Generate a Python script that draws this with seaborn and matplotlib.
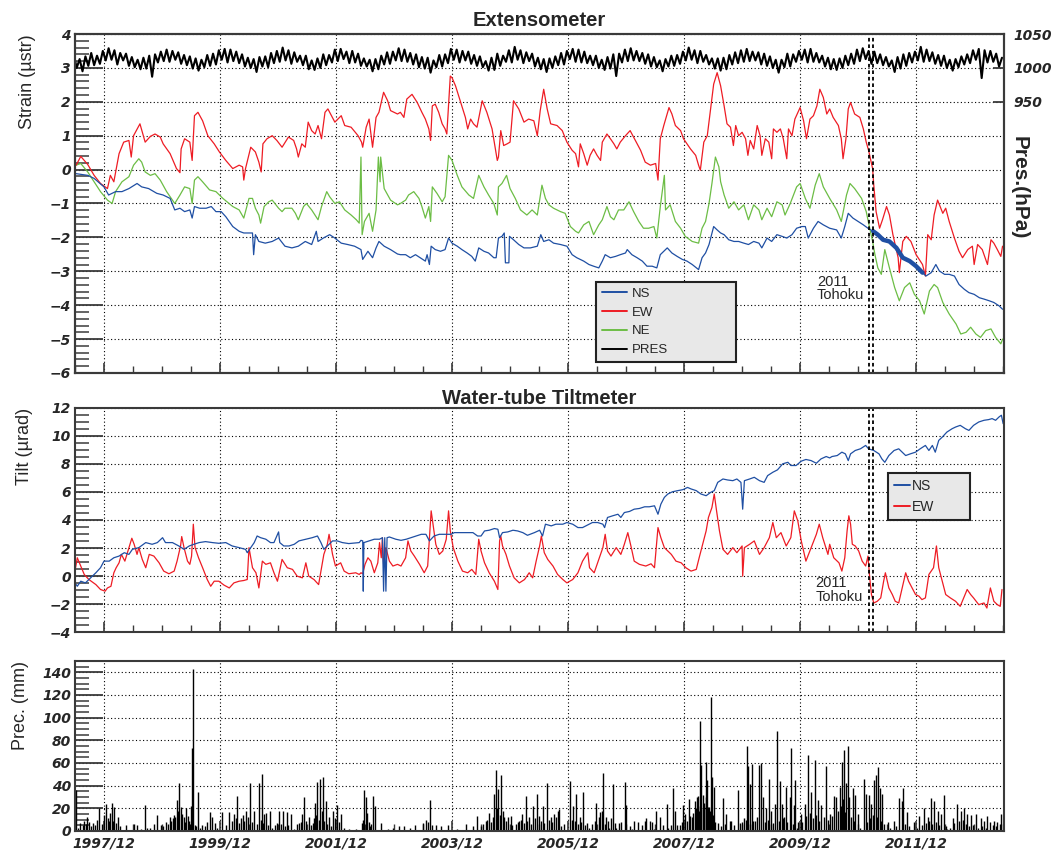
import numpy as np
import matplotlib
matplotlib.use("Agg")
import matplotlib.pyplot as plt
import seaborn as sns
from matplotlib.lines import Line2D

# ---- time axis (decimal years) ----
year_ticks = [1997.92, 1999.92, 2001.92, 2003.92, 2005.92, 2007.92, 2009.92, 2011.92]
year_labels = ["1997/12", "1999/12", "2001/12", "2003/12", "2005/12", "2007/12", "2009/12", "2011/12"]
tohoku_t = [2011.10, 2011.17]

# ---- Extensometer, strain (t, value) ----
ns_strain = [
    (1997.44, -0.12), (1997.64, -0.17), (1997.75, -0.26), (1997.92, -0.51), (1998.00, -0.75), (1998.12, -0.65),
    (1998.23, -0.65), (1998.35, -0.56), (1998.49, -0.41), (1998.57, -0.51), (1998.69, -0.56), (1998.83, -0.70),
    (1998.94, -0.75), (1999.06, -0.85), (1999.14, -1.19), (1999.23, -1.14), (1999.31, -1.24), (1999.40, -1.19),
    (1999.44, -1.43), (1999.48, -1.09), (1999.57, -1.14), (1999.68, -1.14), (1999.77, -1.09), (1999.85, -1.24),
    (1999.94, -1.24), (2000.02, -1.39), (2000.14, -1.68), (2000.25, -1.82), (2000.33, -1.87), (2000.48, -1.87),
    (2000.50, -2.51), (2000.53, -1.92), (2000.59, -2.12), (2000.70, -2.17), (2000.82, -2.12), (2000.93, -2.02),
    (2001.04, -2.26), (2001.16, -2.31), (2001.27, -2.26), (2001.39, -2.12), (2001.50, -2.21), (2001.58, -1.82),
    (2001.61, -2.12), (2001.70, -2.02), (2001.81, -1.92), (2001.90, -2.02), (2002.01, -2.17), (2002.12, -2.21),
    (2002.24, -2.26), (2002.35, -2.36), (2002.38, -2.65), (2002.47, -2.41), (2002.55, -2.60), (2002.61, -2.31),
    (2002.66, -2.12), (2002.75, -2.26), (2002.86, -2.36), (2002.98, -2.49),
    (2003.03, -2.51), (2003.12, -2.51), (2003.20, -2.60), (2003.29, -2.51), (2003.37, -2.60), (2003.46, -2.70),
    (2003.49, -2.51), (2003.53, -2.80), (2003.56, -2.26), (2003.63, -2.36), (2003.72, -2.41), (2003.80, -2.36),
    (2003.86, -2.02), (2003.92, -2.17), (2004.01, -2.26), (2004.09, -2.36), (2004.18, -2.46), (2004.26, -2.56),
    (2004.32, -2.70), (2004.38, -2.31), (2004.47, -2.41), (2004.55, -2.46), (2004.64, -2.60), (2004.68, -2.60),
    (2004.72, -2.02), (2004.78, -1.97), (2004.82, -1.87), (2004.84, -2.75), (2004.90, -2.75), (2004.91, -1.97),
    (2004.98, -2.07), (2005.07, -2.21), (2005.16, -2.31), (2005.27, -2.31), (2005.39, -2.26), (2005.45, -1.92),
    (2005.50, -2.12), (2005.59, -2.07), (2005.67, -2.17), (2005.79, -2.21), (2005.90, -2.26), (2005.99, -2.51),
    (2006.07, -2.60), (2006.19, -2.70), (2006.28, -2.80), (2006.36, -2.85), (2006.45, -2.90), (2006.51, -2.70),
    (2006.56, -2.51), (2006.65, -2.60), (2006.74, -2.56), (2006.82, -2.51), (2006.91, -2.46), (2006.94, -2.36),
    (2007.02, -2.51), (2007.11, -2.60), (2007.20, -2.70), (2007.28, -2.85), (2007.37, -2.85), (2007.45, -2.90),
    (2007.51, -2.51), (2007.63, -2.31), (2007.71, -2.46), (2007.80, -2.56), (2007.89, -2.65), (2007.97, -2.70),
    (2008.06, -2.80), (2008.17, -2.95), (2008.23, -2.60), (2008.29, -2.46), (2008.35, -2.21), (2008.43, -1.68),
    (2008.49, -1.78), (2008.55, -1.87),
    (2008.61, -1.92), (2008.69, -2.07), (2008.78, -2.12), (2008.86, -2.12), (2008.95, -2.17), (2009.03, -2.21),
    (2009.12, -2.12), (2009.21, -2.17), (2009.26, -2.31), (2009.35, -2.02), (2009.43, -2.12), (2009.52, -1.92),
    (2009.61, -1.97), (2009.69, -2.02), (2009.78, -1.92), (2009.86, -1.73), (2009.95, -1.68), (2010.01, -1.68),
    (2010.06, -2.02), (2010.15, -1.73), (2010.23, -1.53), (2010.32, -1.63), (2010.43, -1.73), (2010.55, -1.78),
    (2010.63, -2.02), (2010.69, -1.68), (2010.75, -1.29), (2010.83, -1.43), (2010.92, -1.53), (2011.01, -1.63),
    (2011.09, -1.73), (2011.18, -1.82), (2011.26, -1.92), (2011.35, -2.07), (2011.46, -2.12), (2011.58, -2.31),
    (2011.69, -2.60), (2011.81, -2.70), (2011.92, -2.85), (2012.03, -3.04), (2012.09, -3.14), (2012.18, -3.04),
    (2012.26, -2.80), (2012.32, -2.99), (2012.41, -3.09), (2012.49, -3.09), (2012.58, -3.14), (2012.66, -3.39),
    (2012.75, -3.53), (2012.83, -3.63), (2012.92, -3.68), (2013.01, -3.78), (2013.09, -3.82), (2013.18, -3.87),
    (2013.26, -3.92), (2013.35, -4.02), (2013.41, -4.12),
]

ew_strain = [
    (1997.44, 0.13), (1997.52, 0.39), (1997.64, 0.15), (1997.75, -0.17), (1997.86, -0.41), (1997.98, -0.56),
    (1998.03, -0.17), (1998.09, -0.36), (1998.18, 0.47), (1998.26, 0.81), (1998.35, 0.86), (1998.39, 0.37),
    (1998.43, 1.00), (1998.54, 1.35), (1998.63, 0.81), (1998.72, 0.98), (1998.80, 1.05), (1998.89, 0.96),
    (1998.94, 0.76), (1999.06, 0.47), (1999.17, 0.03), (1999.23, -0.09), (1999.25, 0.61), (1999.31, 0.91),
    (1999.40, 0.81), (1999.44, 0.27), (1999.48, 1.59), (1999.54, 1.69), (1999.62, 1.44), (1999.71, 1.00),
    (1999.82, 0.76), (1999.91, 0.52), (2000.02, 0.27), (2000.14, 0.03), (2000.25, 0.13), (2000.31, 0.08),
    (2000.33, -0.31), (2000.36, 0.03), (2000.45, 0.66), (2000.53, 0.52), (2000.59, 0.22), (2000.63, -0.07),
    (2000.66, 0.76), (2000.73, 0.91), (2000.82, 1.00), (2000.90, 0.86), (2000.99, 0.66), (2001.10, 0.96),
    (2001.19, 0.86), (2001.24, 0.61), (2001.27, 0.37), (2001.33, 0.76), (2001.39, 0.66), (2001.44, 1.40),
    (2001.50, 1.15), (2001.56, 1.05), (2001.61, 1.30), (2001.67, 0.91), (2001.73, 1.69), (2001.78, 1.79),
    (2001.90, 1.40), (2002.01, 1.59), (2002.07, 1.30), (2002.18, 1.25), (2002.30, 1.00), (2002.36, 0.81),
    (2002.38, 0.66), (2002.44, 1.25), (2002.49, 1.49), (2002.55, 0.66), (2002.61, 1.54), (2002.66, 1.69),
    (2002.74, 2.28), (2002.81, 2.03), (2002.86, 1.74), (2002.98, 1.64),
    (2003.03, 1.69), (2003.09, 1.54), (2003.14, 2.08), (2003.23, 2.22), (2003.32, 1.98), (2003.40, 1.69),
    (2003.46, 1.49), (2003.52, 1.20), (2003.55, 0.86), (2003.58, 1.88), (2003.63, 1.93), (2003.69, 1.69),
    (2003.75, 1.35), (2003.80, 1.20), (2003.83, 1.05), (2003.89, 2.76), (2003.92, 2.71), (2003.98, 2.47),
    (2004.06, 2.03), (2004.15, 1.54), (2004.19, 1.20), (2004.24, 1.49), (2004.29, 1.35), (2004.35, 1.25),
    (2004.44, 2.03), (2004.52, 1.69), (2004.61, 1.20), (2004.70, 0.27), (2004.72, 0.37), (2004.76, 1.15),
    (2004.81, 0.71), (2004.87, 0.76), (2004.92, 0.81), (2004.98, 2.03), (2005.07, 1.79), (2005.16, 1.40),
    (2005.24, 1.49), (2005.33, 1.44), (2005.39, 1.00), (2005.44, 1.74), (2005.50, 2.37), (2005.56, 1.79),
    (2005.62, 1.35), (2005.73, 1.30), (2005.82, 1.15), (2005.90, 0.81), (2005.99, 0.57), (2006.05, 0.47),
    (2006.10, 0.08), (2006.13, 0.76), (2006.19, 0.47), (2006.25, 0.13), (2006.30, 0.42), (2006.36, 0.61),
    (2006.42, 0.42), (2006.48, 0.27), (2006.51, 0.81), (2006.59, 1.05), (2006.65, 0.91), (2006.71, 0.76),
    (2006.76, 0.61), (2006.82, 0.81), (2006.91, 1.00), (2006.99, 1.15), (2007.08, 0.86), (2007.17, 0.57),
    (2007.25, 0.22), (2007.34, 0.13), (2007.43, 0.18), (2007.47, -0.31), (2007.51, 0.91), (2007.57, 1.30),
    (2007.66, 1.83), (2007.71, 1.64), (2007.77, 1.30), (2007.86, 1.15), (2007.91, 0.91), (2008.03, 0.61),
    (2008.12, 0.42), (2008.17, 0.13), (2008.20, -0.02), (2008.26, 0.81), (2008.32, 1.00), (2008.37, 1.69),
    (2008.43, 2.52), (2008.49, 2.86), (2008.55, 2.47),
    (2008.61, 1.88), (2008.66, 1.35), (2008.72, 1.25), (2008.77, 0.71), (2008.81, 1.30), (2008.86, 1.00),
    (2008.92, 1.10), (2008.98, 0.91), (2009.02, 0.42), (2009.06, 0.86), (2009.12, 0.61), (2009.18, 1.30),
    (2009.23, 1.00), (2009.26, 0.42), (2009.32, 0.91), (2009.38, 0.81), (2009.43, 0.32), (2009.46, 1.20),
    (2009.52, 1.10), (2009.58, 1.20), (2009.63, 0.91), (2009.69, 0.32), (2009.72, 1.20), (2009.78, 1.00),
    (2009.83, 1.49), (2009.92, 1.83), (2009.98, 1.44), (2010.03, 0.91), (2010.09, 1.49), (2010.15, 1.59),
    (2010.21, 1.88), (2010.26, 2.37), (2010.32, 2.13), (2010.38, 1.64), (2010.43, 1.79), (2010.49, 1.54),
    (2010.58, 1.30), (2010.63, 0.91), (2010.66, 0.32), (2010.71, 0.91), (2010.75, 1.79), (2010.79, 1.98),
    (2010.86, 1.64), (2010.95, 1.54), (2011.01, 1.20), (2011.06, 0.81), (2011.10, 0.57), (2011.17, 0.03),
    (2011.19, -0.46), (2011.23, -1.24), (2011.29, -1.73), (2011.34, -1.48), (2011.41, -1.09), (2011.46, -1.34),
    (2011.52, -1.92), (2011.61, -2.60), (2011.63, -3.04), (2011.69, -2.12), (2011.75, -1.97), (2011.83, -2.12),
    (2011.92, -2.51), (2012.03, -2.80), (2012.08, -3.14), (2012.12, -1.92), (2012.18, -2.07), (2012.23, -1.34),
    (2012.29, -0.90), (2012.38, -1.29), (2012.43, -1.14), (2012.49, -1.53), (2012.58, -2.02), (2012.66, -2.41),
    (2012.72, -2.60), (2012.81, -2.36), (2012.89, -2.26), (2012.92, -2.80), (2012.98, -2.21), (2013.06, -2.36),
    (2013.15, -2.80), (2013.21, -2.07), (2013.26, -2.17), (2013.32, -2.36), (2013.38, -2.56), (2013.41, -2.26),
]

ne_strain = [
    (1997.44, 0.13), (1997.52, 0.18), (1997.64, -0.07), (1997.75, -0.36), (1997.86, -0.65), (1997.98, -0.90),
    (1998.06, -1.00), (1998.12, -0.65), (1998.23, -0.36), (1998.35, -0.21), (1998.43, 0.13), (1998.52, 0.32),
    (1998.57, 0.22), (1998.63, -0.07), (1998.72, -0.17), (1998.80, -0.12), (1998.89, -0.31), (1999.00, -0.65),
    (1999.08, -0.85), (1999.14, -1.00), (1999.23, -0.75), (1999.31, -0.51), (1999.40, -0.56), (1999.44, -1.00),
    (1999.48, -0.31), (1999.54, -0.21), (1999.62, -0.36), (1999.74, -0.60), (1999.85, -0.65), (1999.97, -0.85),
    (2000.14, -1.09), (2000.25, -1.19), (2000.33, -1.43), (2000.42, -0.85), (2000.48, -0.85), (2000.53, -1.14),
    (2000.59, -1.34), (2000.62, -1.58), (2000.68, -1.09), (2000.76, -0.95), (2000.82, -0.90), (2000.93, -1.14),
    (2000.99, -1.24), (2001.04, -1.14), (2001.16, -1.14), (2001.22, -1.29), (2001.27, -1.48), (2001.36, -1.09),
    (2001.41, -1.00), (2001.50, -1.19), (2001.61, -1.48), (2001.67, -1.09), (2001.76, -0.65), (2001.81, -0.80),
    (2001.90, -1.00), (2001.98, -0.95), (2002.07, -1.19), (2002.18, -1.34), (2002.27, -1.48), (2002.32, -1.58),
    (2002.35, 0.37), (2002.37, -1.92), (2002.41, -1.53), (2002.49, -1.29), (2002.55, -1.82), (2002.61, -1.19),
    (2002.65, 0.37), (2002.68, -0.36), (2002.69, 0.37), (2002.75, -0.56), (2002.86, -0.90), (2002.98, -1.04),
    (2003.03, -1.00), (2003.12, -0.90), (2003.17, -0.75), (2003.26, -0.65), (2003.35, -0.85), (2003.40, -1.09),
    (2003.46, -1.43), (2003.52, -1.09), (2003.55, -1.53), (2003.58, -0.51), (2003.66, -0.70), (2003.75, -0.95),
    (2003.80, -0.80), (2003.86, 0.42), (2003.92, 0.27), (2004.01, -0.17), (2004.09, -0.51), (2004.21, -0.75),
    (2004.29, -0.85), (2004.38, -0.17), (2004.47, -0.51), (2004.55, -0.75), (2004.64, -1.00), (2004.70, -1.34),
    (2004.72, -0.51), (2004.78, -0.41), (2004.86, -0.17), (2004.92, -0.56), (2005.01, -0.85), (2005.10, -1.19),
    (2005.21, -1.34), (2005.30, -1.19), (2005.39, -1.34), (2005.47, -0.46), (2005.53, -0.85), (2005.59, -1.04),
    (2005.67, -1.14), (2005.79, -1.24), (2005.87, -1.29), (2005.96, -1.68), (2006.05, -1.82), (2006.10, -1.87),
    (2006.19, -1.63), (2006.28, -1.53), (2006.36, -1.92), (2006.45, -1.63), (2006.51, -1.48), (2006.59, -1.09),
    (2006.65, -1.39), (2006.71, -1.48), (2006.79, -1.19), (2006.88, -1.19), (2006.97, -0.95), (2007.05, -1.24),
    (2007.14, -1.53), (2007.22, -1.73), (2007.31, -1.73), (2007.40, -1.68), (2007.45, -2.02), (2007.51, -1.09),
    (2007.58, -0.17), (2007.60, -1.19), (2007.68, -1.04), (2007.77, -1.53), (2007.86, -1.73), (2007.94, -1.97),
    (2008.06, -2.12), (2008.17, -2.17), (2008.23, -1.73), (2008.29, -1.53), (2008.35, -1.00), (2008.40, -0.41),
    (2008.46, 0.37), (2008.52, 0.08), (2008.55, -0.36),
    (2008.61, -0.75), (2008.69, -1.14), (2008.78, -0.95), (2008.86, -1.19), (2008.95, -1.04), (2009.03, -1.48),
    (2009.12, -1.04), (2009.21, -1.19), (2009.26, -1.48), (2009.35, -1.14), (2009.43, -1.39), (2009.52, -0.95),
    (2009.61, -1.04), (2009.66, -1.34), (2009.75, -1.00), (2009.86, -0.51), (2009.92, -0.41), (2010.01, -0.85),
    (2010.09, -1.14), (2010.18, -0.46), (2010.25, -0.12), (2010.32, -0.51), (2010.43, -0.85), (2010.55, -1.19),
    (2010.63, -1.53), (2010.72, -0.75), (2010.78, -0.41), (2010.86, -0.56), (2010.98, -0.85), (2011.06, -1.24),
    (2011.12, -1.73), (2011.17, -2.12), (2011.21, -2.51), (2011.26, -2.90), (2011.32, -3.09), (2011.38, -2.36),
    (2011.46, -2.90), (2011.55, -3.48), (2011.63, -3.87), (2011.72, -3.48), (2011.81, -3.34), (2011.89, -3.68),
    (2011.98, -3.87), (2012.06, -4.26), (2012.15, -3.58), (2012.23, -3.39), (2012.29, -3.48), (2012.38, -3.92),
    (2012.49, -4.26), (2012.61, -4.56), (2012.69, -4.85), (2012.78, -4.80), (2012.86, -4.65), (2012.95, -4.85),
    (2013.03, -4.95), (2013.12, -4.75), (2013.21, -4.70), (2013.29, -4.95), (2013.38, -5.14), (2013.41, -5.00),
]

# atmospheric pressure (hPa), one value every 0.05 yr from 1997.40
pres_start, pres_step = 1997.40, 0.05
pres_hpa = [
    1019, 1000, 1013, 995, 1017, 1003, 1022, 1004, 1018, 1006, 1025, 1011, 1029, 1012, 1026, 1005, 1022, 1011, 1021, 1003,
    1016, 1001, 1012, 998, 1015, 999, 1018, 987, 1020, 1008, 1024, 1010, 1027, 1009, 1025, 1012, 1023, 1006, 1019, 1004,
    1017, 999, 1014, 996, 1012, 1001, 1019, 1003, 1021, 1005, 1026, 1012, 1028, 1008, 1027, 1010, 1024, 1007, 1020, 1002,
    1015, 1000, 1013, 994, 1016, 1002, 1017, 1001, 1022, 1007, 1025, 1009, 1030, 1011, 1026, 1006, 1023, 1009, 1018, 1004,
    1018, 998, 1011, 997, 1014, 1000, 1020, 1004, 1019, 1008, 1027, 1010, 1028, 1013, 1024, 1007, 1025, 1008, 1021, 1003,
    1014, 1002, 1012, 995, 1013, 998, 1018, 1005, 1023, 1006, 1024, 1011, 1029, 1010, 1027, 1009, 1022, 1005, 1020, 1001,
    1016, 999, 1015, 993, 1011, 1001, 1019, 1002, 1020, 1007, 1028, 1012, 1027, 1008, 1025, 1011, 1024, 1006, 1019, 1003,
    1017, 1001, 1010, 996, 1015, 997, 1021, 1003, 1018, 1009, 1026, 1008, 1031, 1012, 1026, 1007, 1023, 1010, 1021, 1002,
    1015, 998, 1013, 994, 1014, 1000, 1017, 1004, 1022, 1005, 1025, 1013, 1028, 1009, 1027, 1008, 1024, 1007, 1018, 1004,
    1018, 1000, 1012, 997, 1016, 999, 1020, 988, 1021, 1008, 1027, 1010, 1029, 1011, 1025, 1010, 1022, 1006, 1020, 1002,
    1016, 1001, 1011, 995, 1013, 1002, 1018, 1003, 1019, 1006, 1024, 1011, 1030, 1012, 1026, 1007, 1025, 1009, 1019, 1005,
    1014, 999, 1014, 996, 1015, 998, 1019, 1005, 1023, 1007, 1026, 1009, 1028, 1010, 1024, 1011, 1023, 1005, 1021, 1003,
    1017, 1000, 1012, 993, 1012, 1001, 1021, 1002, 1020, 1009, 1025, 1012, 1027, 1008, 1028, 1009, 1022, 1008, 1018, 1002,
    1015, 998, 1013, 997, 1014, 1000, 1018, 1004, 1021, 1006, 1027, 1010, 1029, 1013, 1025, 1006, 1024, 1007, 1020, 1004,
    1016, 1002, 1011, 994, 1016, 999, 1020, 1003, 1022, 1008, 1024, 1011, 1031, 1009, 1027, 1010, 1023, 1006, 1019, 1003,
    1018, 1000, 1012, 996, 1013, 1001, 1017, 1005, 1020, 1007, 1026, 1012, 1028, 985, 1026, 1008, 1025, 1009, 1021, 1002,
    1015,
]

# ---- Water-tube tiltmeter (t, value) ----
ns_tilt = [
    (1997.42, -0.48), (1997.46, -0.72), (1997.52, -0.36), (1997.60, -0.48), (1997.69, -0.12), (1997.78, 0.24),
    (1997.86, 0.60), (1997.92, 1.07), (1998.01, 1.07), (1998.09, 1.31), (1998.18, 1.43), (1998.27, 1.67),
    (1998.35, 1.55), (1998.41, 1.91), (1998.52, 2.03), (1998.64, 2.39), (1998.75, 2.27), (1998.84, 2.39),
    (1998.93, 2.74), (1998.98, 2.39), (1999.10, 2.39), (1999.21, 2.15), (1999.30, 1.91), (1999.39, 2.15),
    (1999.47, 2.27), (1999.56, 2.39), (1999.67, 2.46), (1999.79, 2.39), (1999.90, 2.34), (2000.02, 2.39),
    (2000.13, 2.15), (2000.25, 2.03), (2000.36, 1.91), (2000.39, 1.67), (2000.45, 2.03), (2000.51, 2.39),
    (2000.56, 2.86), (2000.62, 2.74), (2000.71, 2.63), (2000.79, 2.39), (2000.85, 2.39), (2000.93, 3.15),
    (2000.95, 2.39), (2001.02, 2.15), (2001.11, 2.15), (2001.20, 2.27), (2001.28, 2.51), (2001.40, 2.63),
    (2001.51, 2.74), (2001.60, 2.86), (2001.66, 2.39), (2001.71, 1.91), (2001.77, 2.15), (2001.86, 2.51),
    (2001.94, 2.51), (2002.03, 2.39), (2002.14, 2.32), (2002.32, 2.39),
    (2002.35, 2.55), (2002.38, 2.51), (2002.39, -1.07), (2002.40, 2.39), (2002.49, 2.51), (2002.58, 2.63),
    (2002.67, 2.63), (2002.72, 2.74), (2002.74, -1.07), (2002.76, 2.74), (2002.78, -1.07), (2002.80, 2.74),
    (2002.84, 2.79), (2002.95, 2.63), (2003.04, 2.55), (2003.13, 2.63), (2003.21, 2.74), (2003.30, 2.86),
    (2003.39, 2.98), (2003.47, 2.98), (2003.53, 2.51), (2003.61, 2.86), (2003.70, 2.98), (2003.82, 2.98),
    (2003.90, 2.98), (2003.96, 3.10), (2004.05, 3.10), (2004.16, 3.10), (2004.28, 3.10), (2004.36, 2.86),
    (2004.42, 2.86), (2004.48, 3.22), (2004.56, 3.27), (2004.65, 3.39), (2004.71, 3.34), (2004.74, 2.74),
    (2004.79, 3.10), (2004.88, 3.15), (2004.97, 3.27), (2005.05, 3.22), (2005.14, 3.10), (2005.22, 2.91),
    (2005.34, 3.10), (2005.43, 3.27), (2005.48, 2.86), (2005.53, 3.70), (2005.63, 3.58), (2005.71, 3.70),
    (2005.83, 3.70), (2005.90, 3.82), (2006.00, 3.70), (2006.09, 3.46), (2006.17, 3.46), (2006.26, 3.65),
    (2006.34, 3.82), (2006.43, 3.82), (2006.52, 3.70), (2006.55, 3.46), (2006.60, 4.18), (2006.69, 4.30),
    (2006.78, 4.41), (2006.83, 4.18), (2006.89, 4.53), (2006.98, 4.61), (2007.06, 4.77), (2007.15, 4.82),
    (2007.24, 4.94), (2007.32, 4.94), (2007.41, 5.01), (2007.47, 4.41), (2007.52, 5.13), (2007.58, 5.61),
    (2007.64, 5.85), (2007.72, 6.01), (2007.81, 6.09), (2007.90, 6.16), (2007.98, 6.32), (2008.04, 6.21),
    (2008.13, 6.09), (2008.21, 5.85), (2008.30, 5.73), (2008.38, 5.97), (2008.44, 6.09), (2008.50, 6.68),
    (2008.59, 6.92), (2008.67, 6.85), (2008.76, 6.80), (2008.83, 6.92), (2008.90, 6.68), (2008.93, 4.77),
    (2008.96, 6.80), (2009.05, 6.92), (2009.13, 7.04), (2009.22, 6.80), (2009.30, 6.68), (2009.36, 7.16),
    (2009.45, 7.40), (2009.53, 7.57), (2009.62, 8.00), (2009.71, 8.11), (2009.76, 7.88), (2009.85, 7.88),
    (2009.94, 8.19), (2010.02, 8.31), (2010.11, 8.23), (2010.20, 8.04), (2010.28, 8.35), (2010.37, 8.52),
    (2010.43, 8.42),
    (2010.47, 8.52), (2010.56, 8.59), (2010.64, 8.83), (2010.70, 8.71), (2010.75, 8.23), (2010.79, 8.71),
    (2010.87, 8.95), (2010.96, 9.07), (2011.05, 9.31), (2011.10, 9.07), (2011.19, 8.95), (2011.28, 8.71),
    (2011.33, 8.35), (2011.38, 8.11), (2011.45, 8.59), (2011.54, 8.95), (2011.62, 9.07), (2011.68, 8.83),
    (2011.74, 8.59), (2011.82, 8.71), (2011.91, 8.83), (2011.99, 9.07), (2012.08, 9.31), (2012.14, 8.95),
    (2012.20, 9.31), (2012.25, 8.83), (2012.31, 9.67), (2012.37, 9.90), (2012.45, 10.26), (2012.54, 10.50),
    (2012.60, 10.62), (2012.68, 10.74), (2012.77, 10.50), (2012.83, 10.38), (2012.91, 10.74), (2013.00, 10.98),
    (2013.09, 11.10), (2013.17, 11.15), (2013.23, 11.22), (2013.29, 11.10), (2013.35, 11.34), (2013.39, 11.46),
    (2013.42, 10.86),
]

ew_tilt = [
    (1997.42, 0.36), (1997.46, 1.31), (1997.52, 0.72), (1997.58, 0.12), (1997.66, -0.24), (1997.78, -0.60),
    (1997.86, -0.95), (1997.94, -1.07), (1997.98, -0.84), (1998.04, -0.72), (1998.09, 0.24), (1998.13, 0.60),
    (1998.18, 0.95), (1998.22, 1.55), (1998.28, 1.07), (1998.35, 2.03), (1998.40, 2.70), (1998.44, 2.27),
    (1998.49, 1.55), (1998.52, 2.03), (1998.58, 1.19), (1998.64, 0.60), (1998.70, 1.55), (1998.78, 1.43),
    (1998.87, 0.95), (1998.95, 0.36), (1999.04, 0.17), (1999.13, 0.36), (1999.18, 1.07), (1999.24, 2.15),
    (1999.26, 2.82), (1999.30, 2.03), (1999.36, 1.07), (1999.40, 0.84), (1999.43, 1.43), (1999.46, 3.70),
    (1999.49, 2.03), (1999.55, 1.31), (1999.62, 0.60), (1999.70, -0.24), (1999.76, -0.72), (1999.82, -0.36),
    (1999.90, -0.36), (1999.99, -0.64), (2000.08, -0.84), (2000.16, -0.48), (2000.25, -0.36), (2000.33, -0.31),
    (2000.39, -0.24), (2000.42, 2.03), (2000.48, 0.60), (2000.54, 0.24), (2000.59, -0.84), (2000.65, 1.07),
    (2000.71, 0.84), (2000.79, 0.95), (2000.85, 0.24), (2000.91, -0.36), (2000.99, 1.19), (2001.08, 0.60),
    (2001.17, 0.48), (2001.25, 0.00), (2001.34, -0.12), (2001.40, 0.95), (2001.45, 0.00), (2001.54, -0.24),
    (2001.62, -0.60), (2001.66, 0.36), (2001.71, 1.55), (2001.77, 2.27), (2001.80, 2.98), (2001.86, 1.55),
    (2001.91, 0.72), (2002.00, 0.95), (2002.06, 0.36), (2002.14, 0.17), (2002.26, 0.24), (2002.32, 0.12),
    (2002.35, 0.24), (2002.38, 0.17), (2002.42, 0.84), (2002.47, 1.31), (2002.52, 1.07), (2002.58, 0.24),
    (2002.64, 0.95), (2002.67, 2.39), (2002.70, 1.31), (2002.72, 2.74), (2002.74, 0.84), (2002.78, 2.03),
    (2002.84, 1.07), (2002.90, 0.72), (2002.98, 0.84), (2003.04, 0.72), (2003.12, 1.31), (2003.16, 2.51),
    (2003.21, 1.79), (2003.27, 1.43), (2003.36, 0.84), (2003.44, 0.24), (2003.50, 0.72), (2003.56, 4.65),
    (2003.60, 3.46), (2003.64, 2.27), (2003.70, 1.55), (2003.76, 1.79), (2003.82, 2.63), (2003.86, 4.65),
    (2003.89, 3.22), (2003.94, 2.03), (2004.02, 1.07), (2004.10, 0.36), (2004.19, 0.24), (2004.26, 0.48),
    (2004.33, 0.12), (2004.38, 2.63), (2004.42, 1.79), (2004.48, 0.95), (2004.56, 0.24), (2004.65, -0.36),
    (2004.71, -0.95), (2004.74, 2.51), (2004.76, 2.86), (2004.79, 2.15), (2004.85, 1.55), (2004.91, 0.72),
    (2004.99, -0.12), (2005.08, -0.48), (2005.17, -0.24), (2005.25, 0.24), (2005.31, -0.12), (2005.37, 1.07),
    (2005.43, 2.15), (2005.46, 2.86), (2005.51, 1.67), (2005.57, 1.19), (2005.66, 0.72), (2005.74, 0.12),
    (2005.83, -0.24), (2005.90, -0.48), (2006.00, -0.24), (2006.09, 0.24), (2006.17, 1.07), (2006.26, 1.67),
    (2006.29, 0.60), (2006.37, 0.24), (2006.43, 0.95), (2006.52, 2.03), (2006.56, 2.98), (2006.60, 1.79),
    (2006.66, 1.43), (2006.75, 2.03), (2006.83, 1.55), (2006.89, 2.27), (2006.95, 3.10), (2007.01, 2.03),
    (2007.06, 1.07), (2007.15, 0.84), (2007.26, 0.72), (2007.35, 0.88), (2007.41, 0.60), (2007.47, 3.46),
    (2007.52, 2.74), (2007.58, 2.03), (2007.64, 1.79), (2007.70, 1.55), (2007.78, 1.07), (2007.87, 0.95),
    (2007.95, 0.60), (2008.04, 0.36), (2008.13, 0.48), (2008.18, 1.31), (2008.24, 2.27), (2008.30, 3.22),
    (2008.34, 4.18), (2008.40, 4.89), (2008.44, 5.85), (2008.48, 4.65), (2008.53, 3.22), (2008.59, 1.91),
    (2008.67, 1.55), (2008.76, 2.03), (2008.83, 1.67), (2008.92, 2.15), (2008.93, 0.00), (2008.96, 2.03),
    (2009.05, 2.27), (2009.13, 2.51), (2009.22, 1.55), (2009.30, 2.03), (2009.39, 2.74), (2009.45, 3.82),
    (2009.51, 2.74), (2009.59, 3.10), (2009.68, 2.15), (2009.76, 2.74), (2009.82, 4.65), (2009.88, 3.94),
    (2009.94, 2.51), (2010.02, 1.07), (2010.11, 2.03), (2010.20, 2.98), (2010.25, 3.70), (2010.31, 2.74),
    (2010.40, 1.55), (2010.43, 2.27),
    (2010.50, 1.31), (2010.59, 0.95), (2010.64, 0.36), (2010.69, 1.31), (2010.73, 3.22), (2010.76, 4.30),
    (2010.79, 3.70), (2010.82, 2.27), (2010.87, 2.15), (2010.93, 1.79), (2010.99, 1.07), (2011.05, 0.72),
    (2011.09, 1.43), (2011.12, -0.12), (2011.15, -1.31), (2011.19, -1.91), (2011.25, -1.79), (2011.31, -1.55),
    (2011.36, -0.36), (2011.39, 0.24), (2011.45, -0.84), (2011.51, -1.31), (2011.56, -1.79), (2011.62, -1.91),
    (2011.68, -0.84), (2011.74, 0.24), (2011.79, -0.36), (2011.85, -0.84), (2011.91, -1.31), (2011.97, -1.43),
    (2012.02, -1.67), (2012.08, -1.55), (2012.14, 0.12), (2012.22, 0.60), (2012.27, 2.15), (2012.31, 0.60),
    (2012.37, -0.36), (2012.43, -1.31), (2012.51, -1.55), (2012.60, -1.79), (2012.68, -2.15), (2012.74, -1.55),
    (2012.80, -0.95), (2012.86, -1.31), (2012.91, -1.55), (2013.00, -2.03), (2013.09, -1.91), (2013.14, -2.27),
    (2013.20, -0.84), (2013.26, -1.79), (2013.32, -2.03), (2013.37, -2.15), (2013.40, -0.95),
]

# ---- daily precipitation (t, mm): larger events and small background rain ----
prec_events = [
    (1997.44, 36), (1997.50, 7), (1997.63, 12), (1997.66, 8), (1997.76, 5), (1997.83, 20), (1997.92, 14),
    (1997.96, 24), (1998.01, 9), (1998.06, 25), (1998.10, 21), (1998.17, 12), (1998.30, 5), (1998.44, 6),
    (1998.49, 5), (1998.62, 23), (1998.72, 3), (1998.79, 6), (1998.84, 14), (1998.91, 5), (1998.99, 8),
    (1999.05, 12), (1999.11, 11), (1999.15, 12), (1999.18, 27), (1999.22, 42), (1999.25, 21), (1999.30, 12),
    (1999.34, 20), (1999.39, 9), (1999.42, 22), (1999.44, 73), (1999.46, 143), (1999.49, 5), (1999.54, 34),
    (1999.61, 5), (1999.74, 17), (1999.79, 12), (1999.83, 7), (1999.95, 17), (2000.08, 17), (2000.16, 15),
    (2000.21, 31), (2000.28, 11), (2000.37, 18), (2000.44, 42), (2000.51, 18), (2000.60, 42), (2000.64, 50),
    (2000.68, 15), (2000.71, 16), (2000.79, 18), (2000.86, 5), (2000.94, 18), (2001.00, 18), (2001.07, 17),
    (2001.14, 15), (2001.28, 7), (2001.34, 15), (2001.37, 30), (2001.49, 5), (2001.54, 11), (2001.55, 25),
    (2001.60, 43), (2001.65, 46), (2001.69, 48), (2001.74, 26), (2001.80, 12), (2001.86, 18), (2001.94, 23),
    (2002.00, 15), (2002.15, 2), (2002.27, 2), (2002.36, 7), (2002.41, 36), (2002.44, 30), (2002.46, 16),
    (2002.50, 4), (2002.56, 31), (2002.60, 22), (2002.69, 7), (2002.81, 2), (2002.90, 3), (2003.01, 4),
    (2003.10, 4), (2003.19, 3), (2003.28, 5), (2003.42, 7), (2003.47, 10), (2003.54, 27), (2003.64, 5),
    (2003.73, 4), (2003.85, 5), (2004.01, 2), (2004.16, 6), (2004.28, 4), (2004.35, 13), (2004.42, 4),
    (2004.50, 9), (2004.56, 16), (2004.62, 12), (2004.65, 33), (2004.68, 54), (2004.72, 37), (2004.77, 49),
    (2004.82, 12), (2004.88, 12), (2004.93, 13), (2005.02, 6), (2005.08, 9), (2005.13, 15), (2005.19, 31),
    (2005.25, 12), (2005.32, 22), (2005.38, 33), (2005.42, 13), (2005.48, 22), (2005.56, 42), (2005.62, 12),
    (2005.68, 15), (2005.74, 18), (2005.77, 19), (2005.85, 6), (2005.95, 44), (2006.01, 22), (2006.06, 33),
    (2006.12, 12), (2006.18, 34), (2006.24, 7), (2006.34, 6), (2006.41, 25),
    (2006.47, 17), (2006.50, 18), (2006.53, 51), (2006.57, 12), (2006.61, 9), (2006.66, 11), (2006.69, 41),
    (2006.73, 7), (2006.79, 7), (2006.83, 8), (2006.90, 43), (2006.92, 23), (2006.99, 4), (2007.06, 9),
    (2007.12, 8), (2007.19, 5), (2007.24, 9), (2007.27, 11), (2007.33, 9), (2007.37, 8), (2007.44, 18),
    (2007.50, 12), (2007.56, 5), (2007.62, 24), (2007.69, 5), (2007.73, 38), (2007.77, 18), (2007.85, 5),
    (2007.90, 23), (2007.94, 15), (2008.00, 28), (2008.06, 12), (2008.10, 26), (2008.14, 30), (2008.16, 31),
    (2008.19, 97), (2008.22, 58), (2008.25, 32), (2008.26, 21), (2008.29, 30), (2008.30, 61), (2008.32, 45),
    (2008.35, 21), (2008.38, 118), (2008.40, 48), (2008.43, 39), (2008.51, 7), (2008.59, 29), (2008.65, 15),
    (2008.71, 9), (2008.73, 9), (2008.85, 36), (2008.91, 8), (2008.96, 11), (2009.00, 75), (2009.03, 57),
    (2009.06, 41), (2009.09, 59), (2009.14, 9), (2009.22, 58), (2009.25, 60), (2009.28, 30), (2009.34, 20),
    (2009.39, 46), (2009.42, 18), (2009.48, 24), (2009.52, 88), (2009.57, 44), (2009.61, 24), (2009.65, 12),
    (2009.68, 39), (2009.74, 30), (2009.77, 73), (2009.81, 23), (2009.84, 45), (2009.88, 8), (2009.94, 15),
    (2010.01, 24), (2010.06, 67), (2010.11, 34), (2010.17, 63), (2010.22, 27), (2010.28, 23), (2010.37, 57),
    (2010.43, 15), (2010.50, 31), (2010.54, 30), (2010.60, 39), (2010.65, 61), (2010.68, 71), (2010.71, 42),
    (2010.74, 75), (2010.77, 30), (2010.83, 38), (2010.87, 32), (2010.91, 15), (2011.03, 46), (2011.06, 33),
    (2011.11, 32), (2011.15, 24), (2011.19, 45), (2011.22, 49), (2011.27, 56), (2011.30, 38), (2011.34, 33),
    (2011.43, 8), (2011.54, 9), (2011.63, 29), (2011.67, 26), (2011.70, 38), (2011.77, 17), (2011.89, 8),
    (2011.97, 13), (2012.06, 20), (2012.12, 12), (2012.17, 29), (2012.23, 26), (2012.29, 18), (2012.35, 15),
    (2012.40, 32), (2012.46, 2), (2012.55, 11), (2012.63, 24), (2012.69, 18), (2012.75, 20), (2012.80, 15),
    (2012.86, 14), (2012.95, 15), (2013.03, 11), (2013.09, 9), (2013.15, 13), (2013.20, 8), (2013.26, 9),
    (2013.32, 8), (2013.39, 15),
]

prec_background = [
    (1997.47, 3), (1997.55, 5), (1997.58, 9), (1997.61, 6), (1997.70, 4), (1997.73, 7), (1997.80, 10),
    (1997.88, 6), (1997.99, 11), (1998.03, 16), (1998.08, 9), (1998.13, 7), (1998.20, 4), (1998.55, 2),
    (1998.66, 3), (1998.94, 4), (1999.02, 6), (1999.08, 9), (1999.13, 14), (1999.20, 18), (1999.27, 15),
    (1999.32, 8), (1999.37, 13), (1999.40, 6), (1999.51, 4), (1999.58, 3), (1999.66, 4), (1999.70, 8),
    (1999.87, 3), (2000.03, 5), (2000.12, 9), (2000.19, 11), (2000.24, 7), (2000.31, 14), (2000.34, 9),
    (2000.40, 12), (2000.47, 8), (2000.55, 6), (2000.62, 10), (2000.66, 7), (2000.75, 5), (2000.82, 3),
    (2000.90, 7), (2000.97, 6), (2001.04, 4), (2001.10, 5), (2001.20, 2), (2001.25, 6), (2001.31, 8),
    (2001.41, 9), (2001.46, 12), (2001.52, 7), (2001.57, 14), (2001.63, 10), (2001.67, 18), (2001.72, 9),
    (2001.77, 6), (2001.83, 4), (2001.90, 11), (2001.97, 8), (2002.05, 3), (2002.38, 10), (2002.48, 8),
    (2002.53, 6), (2003.50, 8), (2003.57, 5), (2004.45, 6), (2004.53, 10), (2004.59, 8), (2004.70, 20),
    (2004.75, 14), (2004.80, 18), (2004.85, 9), (2004.96, 5), (2005.05, 8), (2005.11, 10), (2005.16, 7),
    (2005.22, 9), (2005.28, 6), (2005.35, 11), (2005.45, 9), (2005.51, 7), (2005.59, 10), (2005.65, 8),
    (2005.71, 12), (2005.80, 4), (2005.98, 10), (2006.04, 9), (2006.09, 6), (2006.15, 8), (2006.21, 5),
    (2006.28, 3), (2006.38, 9), (2006.45, 12), (2006.55, 6), (2006.63, 3), (2006.75, 3), (2007.03, 2),
    (2007.40, 2), (2007.65, 3), (2007.80, 5), (2007.88, 8), (2007.97, 9), (2008.03, 13), (2008.08, 16),
    (2008.12, 20), (2008.18, 18), (2008.20, 22), (2008.24, 19), (2008.27, 25), (2008.33, 21), (2008.37, 18),
    (2008.42, 14), (2008.46, 8), (2008.55, 4), (2008.62, 6), (2008.78, 5), (2008.88, 7), (2008.98, 10),
    (2009.05, 6), (2009.11, 9), (2009.18, 12), (2009.31, 8), (2009.37, 10), (2009.45, 7), (2009.55, 9),
    (2009.63, 11), (2009.70, 8), (2009.79, 6), (2009.86, 3), (2009.96, 8), (2010.03, 13), (2010.09, 16),
    (2010.14, 11), (2010.20, 14), (2010.25, 9), (2010.33, 12), (2010.40, 10), (2010.47, 13), (2010.57, 18),
    (2010.63, 22), (2010.66, 28), (2010.70, 17), (2010.80, 12), (2010.85, 9), (2010.95, 3), (2011.08, 8),
    (2011.13, 11), (2011.17, 14), (2011.24, 12), (2011.32, 9), (2011.37, 6), (2011.47, 3), (2011.58, 4),
    (2011.73, 6), (2011.80, 4), (2011.93, 3), (2012.02, 5), (2012.09, 7), (2012.14, 9), (2012.20, 6),
    (2012.26, 8), (2012.32, 5), (2012.43, 4), (2012.50, 3), (2012.58, 7), (2012.66, 9), (2012.72, 10),
    (2012.78, 6), (2012.83, 4), (2012.90, 5), (2012.99, 3), (2013.06, 4), (2013.12, 3), (2013.24, 5),
    (2013.30, 4), (2013.36, 6),
]

# ---- styling ----
C_NS, C_EW, C_NE = "#1f4fa3", "#ee1c24", "#6cbd45"
SPINE = "#3a3a3a"
T0, T1 = 1997.42, 2013.43
TICKFONT = dict(family="DejaVu Sans", fontweight="bold", fontstyle="italic", fontsize=10)

sns.set_style("white")
plt.rcParams["font.family"] = ["Liberation Sans", "DejaVu Sans"]

fig = plt.figure(figsize=(10.53, 8.5), dpi=100)
ax1 = fig.add_axes([0.0712, 0.5612, 0.882, 0.3988])
ax2 = fig.add_axes([0.0712, 0.2561, 0.882, 0.2643])
ax3 = fig.add_axes([0.0712, 0.0224, 0.882, 0.2000])


def minus(v):
    return str(v).replace("-", "\u2212")


def style_panel(ax, ylo, yhi, ystep, yminor, show_x):
    ax.set_xlim(T0, T1)
    ax.set_ylim(ylo, yhi)
    ax.set_xticks(year_ticks, year_labels if show_x else [""] * len(year_ticks), **TICKFONT)
    ax.set_xticks(np.arange(T0, T1, 0.5), minor=True)
    yt = list(range(ylo, yhi + 1, ystep))
    ax.set_yticks(yt, [minus(v) for v in yt], **TICKFONT)
    ax.set_yticks(np.arange(ylo, yhi + 0.001, yminor), minor=True)
    ax.grid(True, which="major", linestyle=(0, (1, 2.2)), color="black", linewidth=0.8)
    ax.tick_params(axis="y", which="major", direction="in", length=20, width=1.3, color=SPINE, pad=3,
                   left=True, right=False)
    ax.tick_params(axis="y", which="minor", direction="in", length=10, width=1.1, color=SPINE,
                   left=True, right=False)
    ax.tick_params(axis="x", which="major", direction="in", length=7, width=1.2, color=SPINE, pad=4,
                   bottom=True, top=False)
    ax.tick_params(axis="x", which="minor", direction="in", length=5, width=1.0, color=SPINE,
                   bottom=True, top=False)
    for sp in ax.spines.values():
        sp.set_color(SPINE)
        sp.set_linewidth(1.5)


def draw_series(ax, pairs, color, lw=0.9):
    t = [p[0] for p in pairs]
    v = [p[1] for p in pairs]
    sns.lineplot(x=t, y=v, ax=ax, color=color, linewidth=lw, estimator=None, sort=False, legend=False)


def boxed_legend(ax, handles, labels, anchor, fontsize, handlelength, textpad):
    leg = ax.legend(handles, labels, loc="lower left", bbox_to_anchor=anchor, mode="expand",
                    fontsize=fontsize, frameon=True, fancybox=False, framealpha=1, facecolor="#e8e8e8",
                    edgecolor="#222222", handlelength=handlelength, handletextpad=textpad,
                    labelspacing=0.5, borderpad=0.45, borderaxespad=0)
    leg.get_frame().set_linewidth(1.5)
    return leg


# ---- Extensometer ----
style_panel(ax1, -6, 4, 1, 0.2, False)
draw_series(ax1, ne_strain, C_NE)
draw_series(ax1, ew_strain, C_EW)
draw_series(ax1, ns_strain, C_NS)
# noisy post-earthquake stretch of NS appears as a thick band
draw_series(ax1, [p for p in ns_strain if 2011.17 <= p[0] <= 2012.05], C_NS, lw=3.2)
for tt in tohoku_t:
    ax1.axvline(tt, color="black", linestyle=(0, (2, 1.6)), linewidth=1.3)
ax1.text(2010.21, -3.5, "2011\nTohoku", fontsize=10.5, ha="left", va="center", linespacing=0.95)
ax1.set_title("Extensometer", fontsize=14.5, fontweight="bold", pad=6)
ax1.text(-0.051, 1.0, "Strain (\u00b5str)", transform=ax1.transAxes, rotation=90,
         ha="center", va="top", fontsize=13)

axp = ax1.twinx()
pres_t = [pres_start + pres_step * i for i in range(len(pres_hpa))]
sns.lineplot(x=pres_t, y=pres_hpa, ax=axp, color="black", linewidth=1.5, estimator=None, sort=False,
             legend=False)
axp.set_xlim(T0, T1)
axp.set_ylim(550, 1050)
axp.set_yticks([950, 1000, 1050], ["950", "1000", "1050"], **TICKFONT)
axp.tick_params(axis="y", direction="in", length=8, width=1.3, color=SPINE, pad=7, right=True, left=False)
axp.grid(False)
for sp in axp.spines.values():
    sp.set_color(SPINE)
    sp.set_linewidth(1.5)
axp.text(1.017, 0.70, "Pres.(hPa)", transform=axp.transAxes, rotation=270, ha="center", va="top",
         fontsize=15, fontweight="bold")

handles = [Line2D([], [], color=C_NS, lw=1.4), Line2D([], [], color=C_EW, lw=1.4),
           Line2D([], [], color=C_NE, lw=1.4), Line2D([], [], color="black", lw=1.4)]
boxed_legend(axp, handles, ["NS", "EW", "NE", "PRES"], (0.561, 0.032, 0.151, 0.24), 9.5, 1.9, 0.4)

# ---- Water-tube tiltmeter ----
style_panel(ax2, -4, 12, 2, 0.5, False)
draw_series(ax2, ew_tilt, C_EW)
draw_series(ax2, ns_tilt, C_NS)
for tt in tohoku_t:
    ax2.axvline(tt, color="black", linestyle=(0, (2, 1.6)), linewidth=1.3)
ax2.text(2010.18, -1.0, "2011\nTohoku", fontsize=10.5, ha="left", va="center", linespacing=0.95)
ax2.set_title("Water-tube Tiltmeter", fontsize=14.5, fontweight="bold", pad=2)
ax2.text(-0.054, 1.0, "Tilt (\u00b5rad)", transform=ax2.transAxes, rotation=90,
         ha="center", va="top", fontsize=13)
boxed_legend(ax2, [Line2D([], [], color=C_NS, lw=1.4), Line2D([], [], color=C_EW, lw=1.4)], ["NS", "EW"],
             (0.875, 0.50, 0.0883, 0.19), 10, 1.15, 0.15)

# ---- Precipitation ----
style_panel(ax3, 0, 150, 20, 5, True)
ax3.set_yticks(list(range(0, 141, 20)), [str(v) for v in range(0, 141, 20)], **TICKFONT)
bg_t = [p[0] for p in prec_background]
bg_mm = [p[1] for p in prec_background]
ev_t = [p[0] for p in prec_events]
ev_mm = [p[1] for p in prec_events]
ax3.vlines(bg_t, 0, bg_mm, color="black", linewidth=1.0)
ax3.vlines(ev_t, 0, ev_mm, color="black", linewidth=1.0)
ax3.text(-0.059, 1.0, "Prec. (mm)", transform=ax3.transAxes, rotation=90,
         ha="center", va="top", fontsize=13)

fig.savefig("out.png", dpi=100)
